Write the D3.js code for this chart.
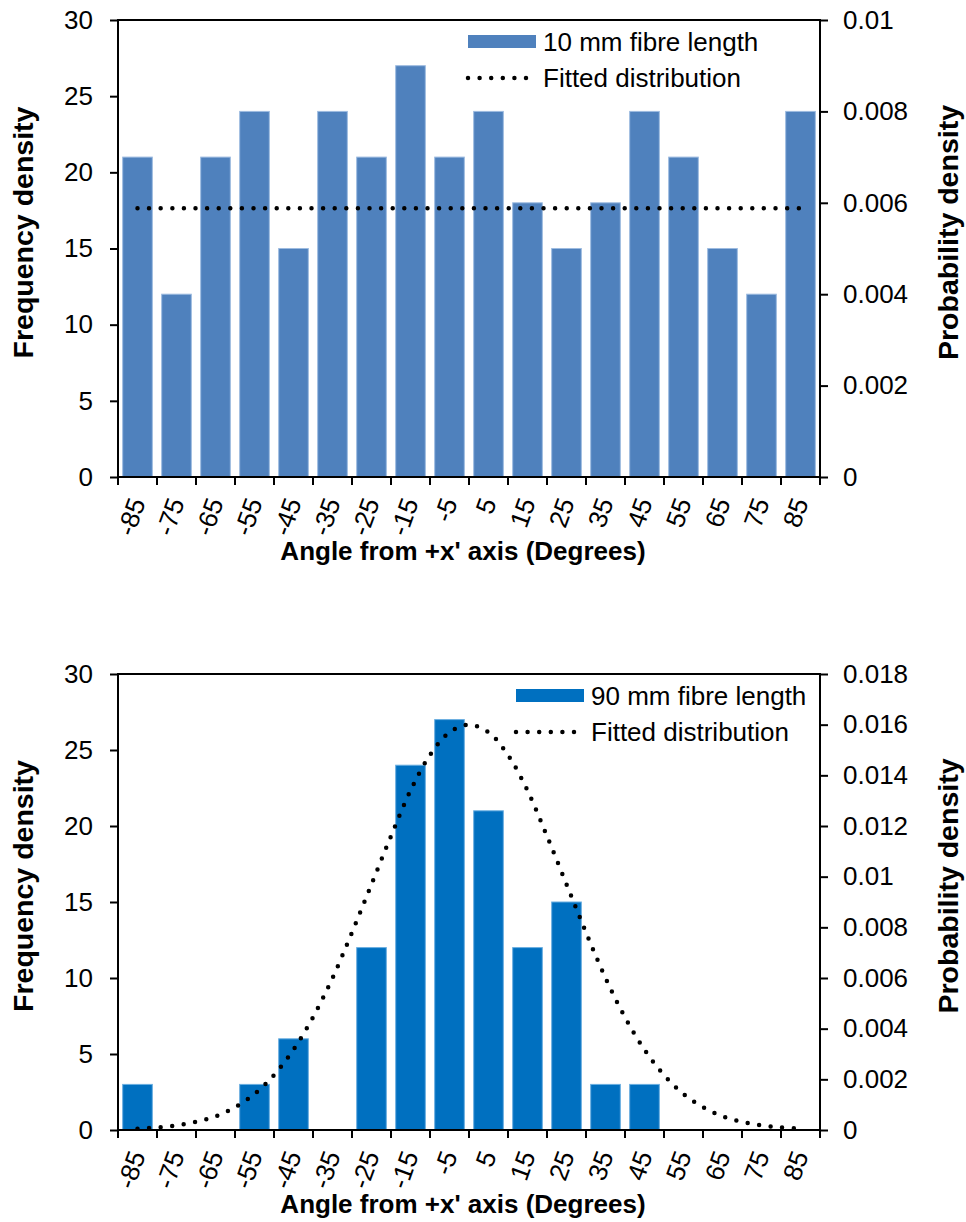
<!DOCTYPE html>
<html>
<head>
<meta charset="utf-8">
<script src="https://cdn.jsdelivr.net/npm/d3@7"></script>
<style>
  body { margin: 0; background: #fff; }
  svg text { font-family: "Liberation Sans", Arial, sans-serif; fill: #000; }
  .tick-label { font-size: 26px; }
  .axis-title { font-size: 26px; font-weight: bold; }
  .axis-title.vert { font-size: 28.5px; }
  .legend { font-size: 26px; }
</style>
</head>
<body>
<svg id="chart" width="966" height="1222"></svg>
<script>
// categories (bin centres, degrees)
var angles = [-85, -75, -65, -55, -45, -35, -25, -15, -5, 5, 15, 25, 35, 45, 55, 65, 75, 85];

// 10 mm fibre length - frequency density
var freq10 = [21, 12, 21, 24, 15, 24, 21, 27, 21, 24, 18, 15, 18, 24, 21, 15, 12, 24];
// fitted distribution (uniform)
var fit10Angles = [-85, -75, -65, -55, -45, -35, -25, -15, -5, 5, 15, 25, 35, 45, 55, 65, 75, 85];
var fit10Values = [0.00588, 0.00588, 0.00588, 0.00588, 0.00588, 0.00588, 0.00588, 0.00588, 0.00588,
                   0.00588, 0.00588, 0.00588, 0.00588, 0.00588, 0.00588, 0.00588, 0.00588, 0.00588];

// 90 mm fibre length - frequency density
var freq90 = [3, 0, 0, 3, 6, 0, 12, 24, 27, 21, 12, 15, 3, 3, 0, 0, 0, 0];
// fitted distribution (normal)
var fit90Angles = [-85, -80, -75, -70, -65, -60, -55, -50, -45, -40, -35, -30, -25, -20, -15, -10, -5, 0,
                   5, 10, 15, 20, 25, 30, 35, 40, 45, 50, 55, 60, 65, 70, 75, 80, 85];
var fit90Values = [0.00005, 0.0001, 0.00018, 0.00032, 0.00054, 0.0009, 0.00142, 0.00217, 0.00317, 0.00445,
                   0.006, 0.0078, 0.0097, 0.0116, 0.0134, 0.0148, 0.0157, 0.016,
                   0.0157, 0.0148, 0.0134, 0.0116, 0.0097, 0.0078, 0.006, 0.00445, 0.00317, 0.00217,
                   0.00142, 0.0009, 0.00054, 0.00032, 0.00018, 0.0001, 0.00005];

// axis ticks
var leftTicks = [0, 5, 10, 15, 20, 25, 30];
var right10Ticks = [0, 0.002, 0.004, 0.006, 0.008, 0.01];
var right90Ticks = [0, 0.002, 0.004, 0.006, 0.008, 0.01, 0.012, 0.014, 0.016, 0.018];

var svg = d3.select("#chart");
var left = 118, right = 820;

function fmtProb(d) {
    return d === 0 ? "0" : String(+d.toFixed(3));
}

function drawPanel(cfg) {
    var top = cfg.top, bottom = cfg.bottom;
    var g = svg.append("g");

    var x = d3.scaleBand().domain(angles).range([left, right]).paddingInner(0.24).paddingOuter(0.12);
    var xLin = d3.scaleLinear().domain([-90, 90]).range([left, right]);
    var y = d3.scaleLinear().domain([0, 30]).range([bottom, top]);
    var y2 = d3.scaleLinear().domain([0, cfg.rightMax]).range([bottom, top]);

    // bars
    g.selectAll("rect.bar")
        .data(cfg.freq)
        .enter().append("rect")
        .attr("class", "bar")
        .attr("x", function(d, i) { return x(angles[i]); })
        .attr("y", function(d) { return y(d); })
        .attr("width", x.bandwidth())
        .attr("height", function(d) { return bottom - y(d); })
        .attr("fill", cfg.color)
        .attr("stroke", cfg.edge)
        .attr("stroke-width", 1)
        .style("display", function(d) { return d > 0 ? null : "none"; });

    // fitted line
    var line = d3.line()
        .x(function(d) { return xLin(d[0]); })
        .y(function(d) { return y2(d[1]); })
        .curve(d3.curveCatmullRom);
    g.append("path")
        .datum(d3.zip(cfg.fitAngles, cfg.fitValues))
        .attr("d", line)
        .attr("fill", "none")
        .attr("stroke", "#000")
        .attr("stroke-width", 4.5)
        .attr("stroke-linecap", "round")
        .attr("stroke-dasharray", "0,11.6");

    // frame
    g.append("rect")
        .attr("x", left).attr("y", top)
        .attr("width", right - left).attr("height", bottom - top)
        .attr("fill", "none").attr("stroke", "#000").attr("stroke-width", 2);

    // left axis
    var yAxis = g.append("g")
        .attr("transform", "translate(" + left + ",0)")
        .call(d3.axisLeft(y).tickValues(leftTicks).tickSize(8).tickPadding(17));
    yAxis.select(".domain").remove();
    yAxis.selectAll("line").attr("stroke", "#000").attr("stroke-width", 2);
    yAxis.selectAll("text").attr("class", "tick-label").attr("font-family", null).attr("font-size", null);

    // right axis
    var y2Axis = g.append("g")
        .attr("transform", "translate(" + right + ",0)")
        .call(d3.axisRight(y2).tickValues(cfg.rightTicks).tickFormat(fmtProb).tickSize(8).tickPadding(15));
    y2Axis.select(".domain").remove();
    y2Axis.selectAll("line").attr("stroke", "#000").attr("stroke-width", 2);
    y2Axis.selectAll("text").attr("class", "tick-label").attr("font-family", null).attr("font-size", null);

    // bottom ticks at bin edges
    var edges = angles.map(function(a) { return a - 5; }).concat([90]);
    g.selectAll("line.xtick")
        .data(edges)
        .enter().append("line")
        .attr("x1", function(d) { return xLin(d); })
        .attr("x2", function(d) { return xLin(d); })
        .attr("y1", bottom).attr("y2", bottom + 8)
        .attr("stroke", "#000").attr("stroke-width", 2);

    // rotated category labels
    g.selectAll("text.xlab")
        .data(angles)
        .enter().append("text")
        .attr("class", "tick-label")
        .attr("text-anchor", "end")
        .attr("dy", "0.35em")
        .attr("transform", function(d) {
            return "translate(" + (x(d) + x.bandwidth() / 2) + "," + (bottom + 22) + ") rotate(-70)";
        })
        .text(function(d) { return d; });

    // axis titles
    g.append("text")
        .attr("class", "axis-title")
        .attr("text-anchor", "middle")
        .attr("x", 463)
        .attr("y", bottom + 83)
        .text("Angle from +x' axis (Degrees)");

    var mid = (top + bottom) / 2 - 16;
    g.append("text")
        .attr("class", "axis-title vert")
        .attr("text-anchor", "middle")
        .attr("transform", "translate(33," + mid + ") rotate(-90)")
        .text("Frequency density");

    g.append("text")
        .attr("class", "axis-title vert")
        .attr("text-anchor", "middle")
        .attr("transform", "translate(958," + mid + ") rotate(-90)")
        .text("Probability density");

    //Legend
    var lg = g.append("g").attr("transform", "translate(" + cfg.legendX + "," + cfg.legendY + ")");
    lg.append("rect")
        .attr("x", 0).attr("y", -7)
        .attr("width", 68).attr("height", 13)
        .attr("fill", cfg.color);
    lg.append("text")
        .attr("class", "legend")
        .attr("x", 75).attr("y", 0)
        .attr("dy", "0.35em")
        .text(cfg.label);
    lg.append("line")
        .attr("x1", 0).attr("x2", 60)
        .attr("y1", 36).attr("y2", 36)
        .attr("stroke", "#000")
        .attr("stroke-width", 4.5)
        .attr("stroke-linecap", "round")
        .attr("stroke-dasharray", "0,11.6");
    lg.append("text")
        .attr("class", "legend")
        .attr("x", 75).attr("y", 36)
        .attr("dy", "0.35em")
        .text("Fitted distribution");
}

drawPanel({
    top: 20, bottom: 477,
    freq: freq10, fitAngles: fit10Angles, fitValues: fit10Values,
    rightMax: 0.01, rightTicks: right10Ticks,
    color: "#4F81BD", edge: "#9dbbe0",
    label: "10 mm fibre length",
    legendX: 468, legendY: 42
});

drawPanel({
    top: 674, bottom: 1130,
    freq: freq90, fitAngles: fit90Angles, fitValues: fit90Values,
    rightMax: 0.018, rightTicks: right90Ticks,
    color: "#0070C0", edge: "#6aaee0",
    label: "90 mm fibre length",
    legendX: 516, legendY: 696
});
</script>
</body>
</html>
